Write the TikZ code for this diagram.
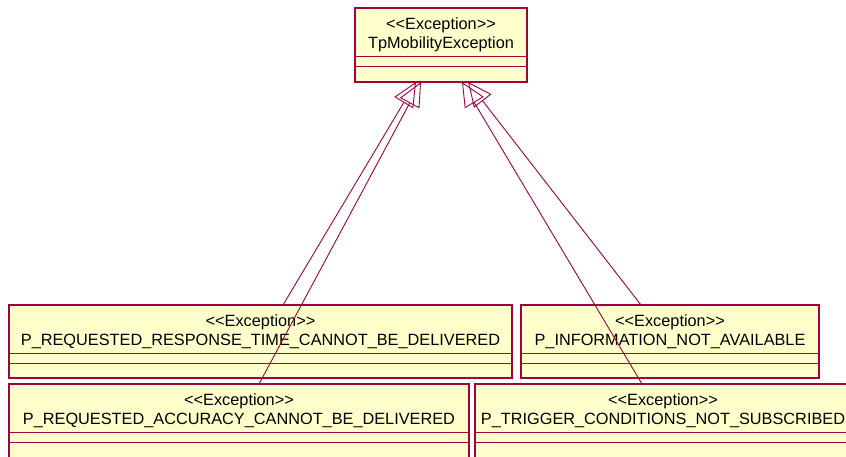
\documentclass[tikz,border=0pt]{standalone}
\usepackage{fontspec}
\newfontfamily\umlfont{Liberation Sans}
\usetikzlibrary{arrows.meta}
\definecolor{umlline}{RGB}{160,0,60}
\definecolor{umlfill}{RGB}{255,255,204}
% stereotype label, kerns keep the angle brackets from being merged
\newcommand\exstereo{<\kern0pt<Exception>\kern0pt>}
% class box with empty attribute and operation compartments
\newcommand\classbox[6]{%
  \node[cls, minimum width=#4pt, minimum height=#5pt] (#1) at (#2,#3) {};
  \draw[sep] ([yshift=-48pt]#1.north west) -- ([yshift=-48pt]#1.north east);
  \draw[sep] ([yshift=-58pt]#1.north west) -- ([yshift=-58pt]#1.north east);
  \node[lbl] (#1-st) at ([yshift=-21pt]#1.north) {\exstereo};
  \node[lbl] (#1-nm) at ([yshift=-40.5pt]#1.north) {#6};
}
\begin{document}
\begin{tikzpicture}[x=1pt,y=-1pt,
  cls/.style={draw=umlline, fill=umlfill, line width=1.2pt, anchor=north west,
              inner sep=0pt, outer sep=0pt},
  sep/.style={draw=umlline, line width=1pt},
  lbl/.style={anchor=base, inner sep=0pt, text=black,
              font=\umlfont\fontsize{16.3}{19}\selectfont},
  gen/.style={draw=umlline, line width=0.9pt, line join=miter,
              -{Triangle[open, length=24pt, width=22pt]}}]
\useasboundingbox (0,0) rectangle (846,456);
\clip (0,0) rectangle (846,456);

\classbox{tpm}{355}{8}{172}{74}{TpMobilityException}
\classbox{rsp}{9}{305}{503}{73}{P\_REQUESTED\_RESPONSE\_TIME\_CANNOT\_BE\_DELIVERED}
\classbox{inf}{521}{305}{298}{73}{P\_INFORMATION\_NOT\_AVAILABLE}
\classbox{acc}{9}{384}{460}{80}{P\_REQUESTED\_ACCURACY\_CANNOT\_BE\_DELIVERED}
\classbox{trg}{475}{384}{376}{80}{P\_TRIGGER\_CONDITIONS\_NOT\_SUBSCRIBED}

% generalization targets on the bottom edge of the parent class
\coordinate (tA) at ([xshift=61pt]tpm.south west);
\coordinate (tB) at ([xshift=66pt]tpm.south west);
\coordinate (tC) at ([xshift=107pt]tpm.south west);
\coordinate (tD) at ([xshift=113pt]tpm.south west);

\draw[gen] ([xshift=274pt]rsp.north west) -- (tA);
\draw[gen] ([xshift=250pt]acc.north west) -- (tB);
\draw[gen] ([xshift=167pt]trg.north west) -- (tC);
\draw[gen] ([xshift=120pt]inf.north west) -- (tD);
\end{tikzpicture}
\end{document}
